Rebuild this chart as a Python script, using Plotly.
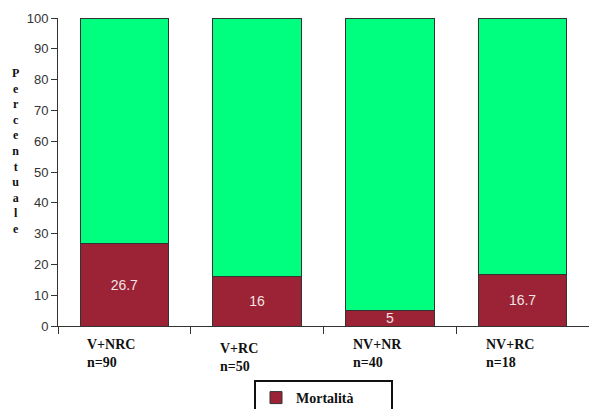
import plotly.graph_objects as go

categories = ["V+NRC", "V+RC", "NV+NR", "NV+RC"]
sizes = ["n=90", "n=50", "n=40", "n=18"]
mortalita = [26.7, 16, 5, 16.7]
resto = [100 - v for v in mortalita]
mort_labels = ["26.7", "16", "5", "16.7"]
yticks = [0, 10, 20, 30, 40, 50, 60, 70, 80, 90, 100]

SERIF = "Liberation Serif"

fig = go.Figure()
fig.add_trace(go.Bar(
    x=categories, y=mortalita,
    name="<b>Mortalità</b>",
    marker=dict(color="#9B2335", line=dict(color="#333333", width=1)),
    text=mort_labels, textposition="inside", insidetextanchor="middle",
    textangle=0, constraintext="none",
    textfont=dict(family="Arial", size=14, color="#F2E4E4"),
    showlegend=True,
))
fig.add_trace(go.Bar(
    x=categories, y=resto, name="Sopravvivenza",
    marker=dict(color="#00FF7F", line=dict(color="#333333", width=1)),
    showlegend=False, hoverinfo="skip",
))

label_yshift = [0, -4, 0, 0]
for i, (c, n) in enumerate(zip(categories, sizes)):
    fig.add_annotation(
        x=c, y=0, xref="x", yref="y", xshift=-39, yshift=-9 + label_yshift[i],
        text=f"<b>{c}<br>{n}</b>", showarrow=False, align="left",
        xanchor="left", yanchor="top",
        font=dict(family=SERIF, size=14, color="#111111"),
    )

fig.add_annotation(
    x=(15 - 58) / 531, y=(326 - 151) / 308, xref="paper", yref="paper",
    text="<b>" + "<br>".join("Percentuale") + "</b>",
    showarrow=False, xanchor="center", yanchor="middle",
    font=dict(family=SERIF, size=12, color="#111111"),
)

fig.update_layout(
    barmode="stack",
    bargap=0.333,
    width=589, height=409,
    margin=dict(l=58, r=0, t=18, b=83, autoexpand=False),
    paper_bgcolor="white", plot_bgcolor="white",
    font=dict(family=SERIF),
    xaxis=dict(
        showticklabels=False, ticks="outside", tickson="boundaries",
        ticklen=7, tickcolor="#333333", showline=True, linecolor="#333333",
        linewidth=1, showgrid=False, range=[-0.5, 3.5],
    ),
    yaxis=dict(
        range=[0, 100], tickvals=yticks, ticks="outside", ticklen=6,
        tickcolor="#333333", showline=True, linecolor="#333333", linewidth=1,
        showgrid=False, zeroline=False,
        tickfont=dict(family="Arial", size=13, color="#333333"),
    ),
    legend=dict(
        orientation="h",
        x=(254 - 58) / 531, y=-54 / 308, xanchor="left", yanchor="top",
        bordercolor="#111111", borderwidth=2, bgcolor="white",
        font=dict(family=SERIF, size=14, color="#111111"),
        entrywidth=90, entrywidthmode="pixels",
        itemwidth=30,
    ),
)

fig.write_html("out.html")
